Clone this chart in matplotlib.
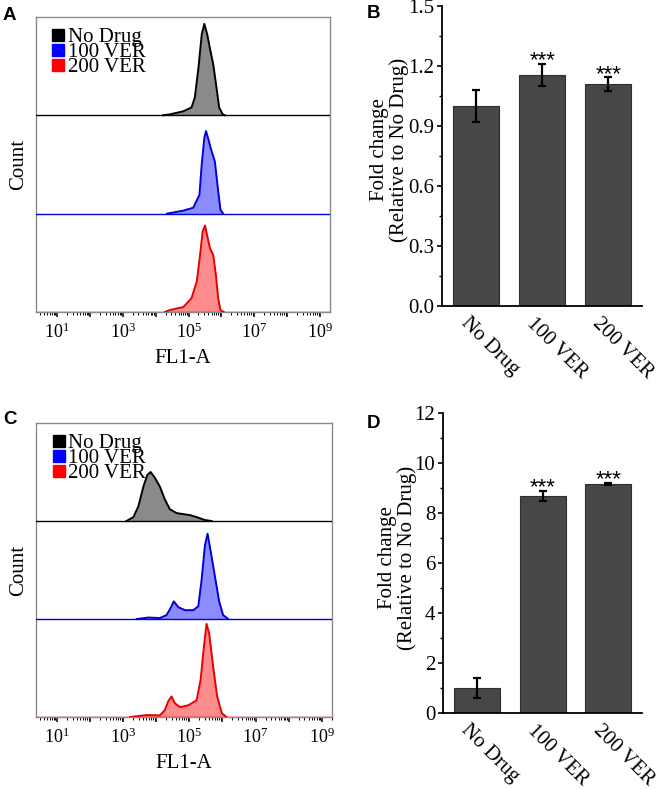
import numpy as np
import matplotlib
matplotlib.use("Agg")
import matplotlib.pyplot as plt
from matplotlib.lines import Line2D
from matplotlib.ticker import LogLocator, FuncFormatter, MultipleLocator, NullFormatter

plt.rcParams['font.family'] = ['Liberation Serif', 'DejaVu Serif']
plt.rcParams['mathtext.fontset'] = 'custom'
plt.rcParams['mathtext.rm'] = 'Liberation Serif'

# ---------------- data ----------------
groups = ["No Drug", "100 VER", "200 VER"]
hist_colors_line = ["#000000", "#0000d8", "#e80000"]
hist_colors_fill = ["#8a8a8a", "#8c8cff", "#ff8c8c"]

# Panel A histograms (log10 FL1-A, relative count)
a_nodrug_logx = [4.22, 4.43, 4.83, 5.09, 5.19, 5.30, 5.40, 5.48, 5.57, 5.65, 5.75, 5.85, 5.93, 6.04, 6.10]
a_nodrug_cnt = [0.00, 0.01, 0.04, 0.08, 0.18, 0.48, 0.82, 0.93, 0.82, 0.68, 0.52, 0.28, 0.08, 0.01, 0.00]
a_v100_logx = [4.34, 4.83, 5.14, 5.33, 5.40, 5.48, 5.53, 5.60, 5.67, 5.80, 5.90, 5.97, 6.05]
a_v100_cnt = [0.00, 0.03, 0.06, 0.19, 0.50, 0.77, 0.84, 0.76, 0.67, 0.53, 0.23, 0.04, 0.00]
a_v200_logx = [4.28, 4.43, 4.84, 5.09, 5.25, 5.35, 5.43, 5.50, 5.57, 5.65, 5.75, 5.83, 5.90, 5.97, 6.07]
a_v200_cnt = [0.00, 0.02, 0.05, 0.14, 0.31, 0.58, 0.82, 0.88, 0.77, 0.65, 0.58, 0.38, 0.14, 0.02, 0.00]

# Panel C histograms
c_nodrug_logx = [3.10, 3.31, 3.46, 3.61, 3.73, 3.83, 3.96, 4.11, 4.26, 4.41, 4.62, 4.82, 5.02, 5.22, 5.47, 5.67]
c_nodrug_cnt = [0.00, 0.04, 0.15, 0.35, 0.47, 0.50, 0.44, 0.35, 0.22, 0.12, 0.08, 0.07, 0.06, 0.04, 0.01, 0.00]
c_v100_logx = [3.41, 3.76, 4.11, 4.31, 4.43, 4.53, 4.67, 4.87, 5.12, 5.27, 5.37, 5.47, 5.55, 5.65, 5.77, 5.90, 6.02, 6.17]
c_v100_cnt = [0.00, 0.015, 0.01, 0.04, 0.11, 0.18, 0.12, 0.09, 0.09, 0.13, 0.40, 0.75, 0.87, 0.68, 0.44, 0.18, 0.04, 0.00]
c_v200_logx = [3.21, 3.71, 4.11, 4.26, 4.36, 4.46, 4.56, 4.72, 4.97, 5.22, 5.34, 5.44, 5.52, 5.60, 5.72, 5.84, 5.98, 6.12]
c_v200_cnt = [0.00, 0.02, 0.017, 0.07, 0.16, 0.21, 0.14, 0.10, 0.12, 0.17, 0.38, 0.72, 0.95, 0.85, 0.51, 0.21, 0.04, 0.00]

# Bar panels
b_means = [1.00, 1.155, 1.11]
b_errs = [0.08, 0.057, 0.035]
b_sig = ["", "***", "***"]
d_means = [1.00, 8.70, 9.17]
d_errs = [0.40, 0.20, 0.05]
d_sig = ["", "***", "***"]

hist_xticks_exp = [1, 2, 3, 4, 5, 6, 7, 8, 9]

W, H = 666, 789
fig = plt.figure(figsize=(W / 100, H / 100), dpi=100)


def fr(l, t, r, b):
    return [l / W, 1 - b / H, (r - l) / W, (b - t) / H]


def hist_panel(rect, curves, xlim_log):
    ax = fig.add_axes(rect)
    n = len(curves)
    for k, (lx, cnt) in enumerate(curves):
        off = n - 1 - k
        x = 10 ** np.asarray(lx)
        y = off + np.asarray(cnt)
        ax.fill_between(x, off, y, color=hist_colors_fill[k], lw=0, zorder=2)
        ax.plot(x, y, color=hist_colors_line[k], lw=1.4, zorder=3, solid_joinstyle='round')
        ax.axhline(off, color=hist_colors_line[k], lw=1.0, zorder=4)
    ax.set_xscale('log')
    ax.set_xlim(10 ** xlim_log[0], 10 ** xlim_log[1])
    ax.set_ylim(0, n)
    ax.set_yticks([])
    for s in ax.spines.values():
        s.set_color('#8a8a8a')
        s.set_linewidth(1.0)
    ax.xaxis.set_major_locator(LogLocator(base=10, numticks=20))
    ax.xaxis.set_minor_locator(LogLocator(base=10, subs=np.arange(2, 10), numticks=200))
    ax.xaxis.set_minor_formatter(NullFormatter())

    def fmt(v, pos):
        e = int(round(np.log10(v)))
        if e in hist_xticks_exp and e % 2 == 1:
            return r'$\mathregular{10^{%d}}$' % e
        return ''
    ax.xaxis.set_major_formatter(FuncFormatter(fmt))
    ax.tick_params(axis='x', which='major', direction='out', length=3.8, width=1.1,
                   labelsize=13, pad=4, color='black')
    ax.tick_params(axis='x', which='minor', direction='out', length=2.2, width=0.7, color='black')
    ax.set_xlabel('FL1-A', fontsize=15)
    ax.xaxis.set_label_coords(0.5, -0.125)
    ax.set_ylabel('Count', fontsize=15)
    ax.yaxis.set_label_coords(-0.028, 0.5)
    handles = [Line2D([], [], marker='s', color=c, linestyle='none', markersize=8.5)
               for c in ["#000000", "#0000ff", "#ff0000"]]
    ax.legend(handles, groups, loc='upper left', bbox_to_anchor=(0.048, 0.965),
              frameon=False, fontsize=15, labelspacing=-0.22, handletextpad=0.05,
              handlelength=0.8, borderpad=0, borderaxespad=0)
    return ax


def bar_panel(rect, means, errs, sig, ymax, major, fmtstr, label_coords):
    ax = fig.add_axes(rect)
    x = np.arange(len(groups))
    ax.bar(x, means, width=0.7, color='#474747', edgecolor='#2e2e2e', linewidth=0.8, zorder=2)
    ax.errorbar(x, means, yerr=errs, fmt='none', ecolor='black', elinewidth=1.6,
                capsize=2.6, capthick=1.6, zorder=3)
    for i in range(len(x)):
        if sig[i]:
            ax.annotate(sig[i], xy=(x[i], means[i] + errs[i]), xytext=(0, -3),
                        textcoords='offset pixels', ha='center', va='baseline',
                        fontsize=16, family='Liberation Sans')
    ax.set_xlim(-0.515, 2.51)
    ax.set_ylim(0, ymax)
    ax.yaxis.set_major_locator(MultipleLocator(major))
    ax.yaxis.set_minor_locator(MultipleLocator(major / 2))
    ax.yaxis.set_major_formatter(FuncFormatter(lambda v, p: fmtstr % v))
    ax.spines['top'].set_visible(False)
    ax.spines['right'].set_visible(False)
    ax.spines['left'].set_linewidth(1.3)
    ax.spines['bottom'].set_linewidth(1.3)
    ax.tick_params(axis='y', which='major', direction='out', length=3.5, width=1.2,
                   labelsize=15, pad=2)
    ax.tick_params(axis='y', which='minor', direction='out', length=2.0, width=1.0)
    ax.set_xticks(x)
    ax.set_xticklabels([])
    ax.tick_params(axis='x', length=0)
    for i, g in enumerate(groups):
        ax.annotate(g, xy=(x[i], 0), xycoords=('data', 'axes fraction'),
                    xytext=(-6, -8), textcoords='offset pixels', rotation=-45,
                    rotation_mode='anchor', ha='left', va='top', fontsize=15)
    ax.set_ylabel('Fold change\n(Relative to No Drug)', fontsize=15, linespacing=1.0)
    ax.yaxis.set_label_coords(*label_coords)
    return ax


axA = hist_panel(fr(36, 17, 330, 312),
                 [(a_nodrug_logx, a_nodrug_cnt), (a_v100_logx, a_v100_cnt), (a_v200_logx, a_v200_cnt)],
                 (0.362, 9.30))
axC = hist_panel(fr(36, 423, 332, 717),
                 [(c_nodrug_logx, c_nodrug_cnt), (c_v100_logx, c_v100_cnt), (c_v200_logx, c_v200_cnt)],
                 (0.366, 9.31))
axB = bar_panel(fr(442, 6, 642, 306), b_means, b_errs, b_sig, 1.5, 0.3, '%.1f', (-0.165, 0.52))
axD = bar_panel(fr(443, 413, 642, 713), d_means, d_errs, d_sig, 12, 2, '%d', (-0.13, 0.517))

for lab, (px, py) in zip("ABCD", [(3, 7), (367, 5), (3, 411), (367, 415)]):
    fig.text(px / W, 1 - py / H, lab, fontsize=13.5, fontweight='bold',
             family='Liberation Sans', ha='left', va='top')

fig.savefig('out.png', dpi=100)
